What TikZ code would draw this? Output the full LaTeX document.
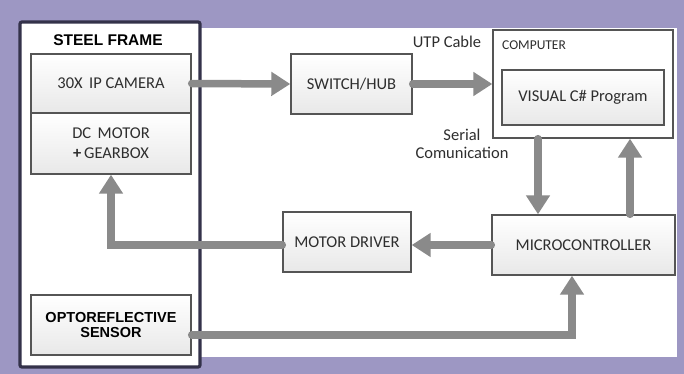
\documentclass[tikz,border=0pt]{standalone}
\usepackage{fontspec}
\setmainfont{Carlito}
\newfontfamily\arialf{Liberation Sans}
\usetikzlibrary{arrows.meta,calc}
\definecolor{bgpurple}{HTML}{9D97C3}
\definecolor{framecol}{HTML}{34324A}
\definecolor{boxline}{HTML}{555555}
\definecolor{arrowgray}{HTML}{8A8A8A}
\definecolor{txt}{HTML}{2E2E2E}
\begin{document}
\begin{tikzpicture}[x=1pt,y=-1pt,
  blk/.style={draw=boxline,line width=1.4pt,top color=white,bottom color=black!9,inner sep=0pt,
    text=txt,font=\fontsize{16.5}{20}\selectfont,align=center},
  fat/.style={draw=arrowgray,line width=7.5pt,line cap=round,
    -{Triangle[width=23pt,length=19pt,line cap=butt]}},
  lbl/.style={text=txt,font=\fontsize{16.5}{18}\selectfont,inner sep=0pt,align=center}]
\useasboundingbox (0,0) rectangle (684,374);
\fill[bgpurple] (0,0) rectangle (684,374);
\fill[white] (200,28) rectangle (677,357);
% steel frame
\draw[framecol,line width=3.2pt,fill=white,rounded corners=2pt] (20,22) rectangle (200,367);
\node[inner sep=0pt,text=black,font=\arialf\bfseries\fontsize{15.5}{17}\selectfont] (sf) at (108,40) {STEEL FRAME};
\node[blk,minimum width=160pt,minimum height=59pt] (cam) at (111,83.5) {30X\, IP CAMERA};
\node[blk,minimum width=160pt,minimum height=61pt] (dcm) at (111,143.5) {DC\, MOTOR\\{\bfseries+}\,GEARBOX};
\node[blk,minimum width=160pt,minimum height=60pt,text=black,font=\arialf\bfseries\fontsize{14.5}{15.5}\selectfont] (sens) at (111,325) {OPTOREFLECTIVE\\SENSOR};
\node[blk,minimum width=121pt,minimum height=60pt] (sw) at (351.5,84) {SWITCH/HUB};
\node[draw=boxline,line width=1.4pt,fill=white,minimum width=180pt,minimum height=108pt,inner sep=0pt] (comp) at (583,84) {};
\node[lbl,anchor=west,font=\fontsize{13.5}{15}\selectfont] (comptxt) at (502,45) {COMPUTER};
\node[blk,minimum width=162pt,minimum height=55pt] (vis) at (583,97.5) {VISUAL C\# Program};
\node[blk,minimum width=183pt,minimum height=60pt] (micro) at (583.5,245) {MICROCONTROLLER};
\node[blk,minimum width=128pt,minimum height=60pt] (mdrv) at (347,242) {MOTOR DRIVER};
\node[lbl] (utp) at (447,42) {UTP Cable};
\node[lbl] (ser) at (462,144) {Serial\\Comunication};
% arrows
\draw[fat] (cam.east) -- (sw.west);
\draw[fat] (sw.east) -- (comp.west|-sw.east);
\draw[fat] ([xshift=-45pt]comp.south) -- ([xshift=-45.5pt]micro.north);
\draw[fat] ([xshift=46.5pt]micro.north) -- ([xshift=47pt]comp.south);
\draw[fat] (micro.west) -- (mdrv.east|-micro.west);
\draw[fat] (mdrv.west|-micro.west) -| (dcm.south);
\draw[fat] ([yshift=-10pt]sens.east) -| ([xshift=-11.5pt]micro.south);
\end{tikzpicture}
\end{document}
